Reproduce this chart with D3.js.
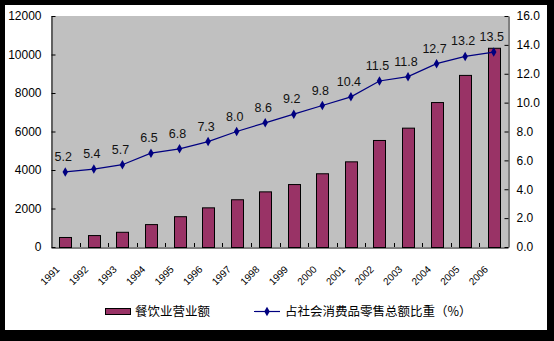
<!DOCTYPE html>
<html><head><meta charset="utf-8">
<script src="https://cdn.jsdelivr.net/npm/d3@7"></script>
<style>
html,body{margin:0;padding:0;background:#000;}
svg{display:block;}
</style></head>
<body>
<svg id="c" width="554" height="341"></svg>
<script>
const years = ["1991","1992","1993","1994","1995","1996","1997","1998","1999","2000","2001","2002","2003","2004","2005","2006"];
const revenue = [520, 620, 790, 1190, 1600, 2060, 2480, 2890, 3270, 3830, 4450, 5560, 6200, 7530, 8940, 10350];
const share = [5.2, 5.4, 5.7, 6.5, 6.8, 7.3, 8.0, 8.6, 9.2, 9.8, 10.4, 11.5, 11.8, 12.7, 13.2, 13.5];
const leftTicks = [0, 2000, 4000, 6000, 8000, 10000, 12000];
const rightTicks = [0, 2, 4, 6, 8, 10, 12, 14, 16];
const seriesNames = ["餐饮业营业额", "占社会消费品零售总额比重（%）"];

const svg = d3.select("#c");
const font = "Arial, 'Liberation Sans', sans-serif";
const cjk = "'Noto Sans CJK SC', 'Noto Sans', sans-serif";

svg.append("rect").attr("x",5).attr("y",5).attr("width",542).attr("height",325).attr("fill","#fff");

const L = 51, R = 508, T = 16, B = 247;
const x = d3.scaleBand().domain(years).range([L, R]).padding(0);
const yL = d3.scaleLinear().domain([0, 12000]).range([B, T]);
const yR = d3.scaleLinear().domain([0, 16]).range([B, T]);

svg.append("rect").attr("x",L).attr("y",T).attr("width",R-L).attr("height",B-T).attr("fill","#c0c0c0");

const bw = 12;
svg.append("g").selectAll("rect").data(revenue).join("rect")
  .attr("x",(d,i)=>Math.round(x(years[i])+x.bandwidth()/2-bw/2)+0.5)
  .attr("y",d=>yL(d)+0.5)
  .attr("width",bw)
  .attr("height",d=>B-yL(d))
  .attr("fill","#993366").attr("stroke","#000").attr("stroke-width",1);

// left axis
const gl = svg.append("g").attr("transform",`translate(${L+0.5},0)`)
  .call(d3.axisLeft(yL).tickValues(leftTicks).tickSizeInner(-4).tickSizeOuter(0).tickPadding(10).tickFormat(d3.format("d")));
gl.select(".domain").attr("stroke","#000");
gl.selectAll("text").attr("font-family",font).attr("font-size",12).attr("fill","#000");

// right axis
const gr = svg.append("g").attr("transform",`translate(${R+0.5},0)`)
  .call(d3.axisRight(yR).tickValues(rightTicks).tickSizeInner(-4).tickSizeOuter(0).tickPadding(8).tickFormat(d3.format(".1f")));
gr.select(".domain").attr("stroke","#000");
gr.selectAll("text").attr("font-family",font).attr("font-size",12).attr("fill","#000");

// bottom axis
const gb = svg.append("g").attr("transform",`translate(0,${B+0.5})`)
  .call(d3.axisBottom(x).tickSize(0).tickFormat(""));
gb.select(".domain").attr("stroke","#000");
const bounds = years.map(y=>x(y)).concat([R]);
svg.append("g").selectAll("line").data(bounds.slice(1,-1)).join("line")
  .attr("x1",d=>Math.round(d)+0.5).attr("x2",d=>Math.round(d)+0.5)
  .attr("y1",B).attr("y2",B-4).attr("stroke","#000");
svg.append("g").selectAll("text").data(years).join("text")
  .attr("transform",d=>`translate(${x(d)+x.bandwidth()/2-5},270) rotate(-45)`)
  .attr("text-anchor","end").attr("font-family",font).attr("font-size",10).attr("fill","#000")
  .text(d=>d);

// line
const cx = (i)=>x(years[i])+x.bandwidth()/2;
const line = d3.line().x((d,i)=>cx(i)).y(d=>yR(d));
svg.append("path").datum(share).attr("d",line).attr("fill","none").attr("stroke","#000080").attr("stroke-width",1.2);
const diamond = d3.symbol().type(d3.symbolDiamond).size(26);
svg.append("g").selectAll("path").data(share).join("path")
  .attr("transform",(d,i)=>`translate(${cx(i)},${yR(d)})`)
  .attr("d",diamond).attr("fill","#000080");
svg.append("g").selectAll("text").data(share).join("text")
  .attr("x",(d,i)=>cx(i)-2).attr("y",d=>yR(d)-11)
  .attr("text-anchor","middle").attr("font-family",font).attr("font-size",12.5).attr("fill","#111")
  .text(d=>d3.format(".1f")(d));

// legend
const lg = svg.append("g");
lg.append("rect").attr("x",105.5).attr("y",308.5).attr("width",25).attr("height",6).attr("fill","#993366").attr("stroke","#000");
lg.append("text").attr("x",135).attr("y",316).attr("font-family",cjk).attr("font-size",12.5).attr("fill","#000").text(seriesNames[0]);
lg.append("line").attr("x1",254).attr("x2",280).attr("y1",311.5).attr("y2",311.5).attr("stroke","#000080").attr("stroke-width",1.2);
lg.append("path").attr("transform","translate(267,311.5)").attr("d",diamond).attr("fill","#000080");
lg.append("text").attr("x",285).attr("y",316).attr("font-family",cjk).attr("font-size",12.5).attr("fill","#000").text(seriesNames[1]);
</script>
</body></html>
